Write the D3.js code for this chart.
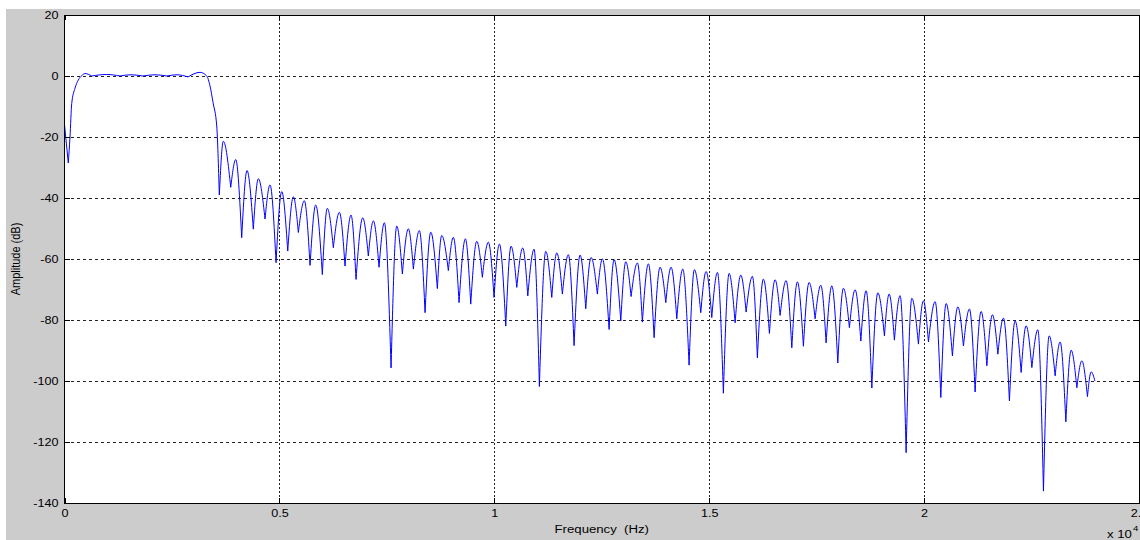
<!DOCTYPE html>
<html>
<head>
<meta charset="utf-8">
<script src="https://cdn.jsdelivr.net/npm/d3@7"></script>
<style>
  html, body { margin: 0; padding: 0; background: #fff; overflow: hidden; }
  svg { display: block; }
  text { font-family: "Liberation Sans", Arial, Helvetica, sans-serif; fill: #000; }
</style>
</head>
<body>
<svg id="chart" width="1140" height="540"></svg>
<script>
// Magnitude response of the low-pass FIR filter, sampled at the ripple peaks and notches.
const freqHz = [
  0, 88, 128, 168, 244, 321, 400, 477, 633, 982, 1291, 1547, 1827, 2106, 2385, 2618, 2874, 3153,
  3309, 3386, 3456, 3542, 3602,
  3695, 3868, 3984, 4123, 4247, 4393, 4510, 4666, 4782, 4922, 5054, 5194, 5324, 5441, 5580, 5713,
  5845, 5999, 6115, 6255, 6395, 6527, 6667, 6783, 6939, 7069, 7186, 7318, 7442, 7598, 7730, 7861,
  8000, 8117, 8256, 8389, 8522, 8675, 8777, 8931, 9047, 9180, 9327, 9452, 9592, 9722, 9862, 9994,
  10118, 10267, 10390, 10523, 10662, 10779, 10925, 11049, 11197, 11337, 11454, 11584, 11723, 11856,
  11996, 12128, 12252, 12398, 12515, 12671, 12787, 12943, 13059, 13183, 13329, 13445, 13585, 13718,
  13857, 13990, 14113, 14246, 14385, 14532, 14655, 14804, 14928, 15060, 15191, 15330, 15463, 15603,
  15735, 15859, 16005, 16121, 16261, 16401, 16533, 16650, 16789, 16922, 17052, 17192, 17324, 17464,
  17597, 17720, 17853, 17992, 18123, 18262, 18395, 18528, 18651, 18784, 18923, 19077, 19186, 19309,
  19442, 19582, 19714, 19868, 19984, 20101, 20257, 20389, 20512, 20659, 20785, 20915, 21055, 21187,
  21327, 21460, 21590, 21716, 21846, 21985, 22118, 22258, 22374, 22507, 22646, 22777, 22909, 23049,
  23165, 23298, 23421, 23554, 23670, 23801, 23887, 23975
];
const ampDb = [
  -16, -28.5, -20, -9, -4, -1.3, 0.1, 0.8, 0, 0.5, 0, 0.4, 0, 0.4, 0, 0.4, -0.3, 1.2,
  0, -3.3, -8.7, -16.4, -39,
  -21.4, -36.5, -27.4, -53, -31, -50.2, -33.7, -46.9, -35.7, -61.2, -37.9, -57.4, -39.6, -51.3, -40.9, -62.1,
  -42.3, -65.1, -43.4, -56.3, -44.7, -62.3, -45.6, -66.7, -46.5, -59, -47.5, -62.7, -48.1, -95.7, -49.2, -64.9,
  -50.1, -63.3, -50.7, -77.6, -51.2, -69.7, -52.3, -63.8, -52.9, -74.3, -53.4, -74.8, -54.2, -66, -54.5, -72.6,
  -55.1, -82, -55.8, -69.3, -56.4, -72.1, -56.8, -101.8, -57.5, -72.6, -58, -71.5, -58.6, -88.4,
  -58.7, -76.3, -59.5, -71.5, -60, -83.1, -60.2, -80.3, -60.9, -72.3, -61.3, -80.7, -61.6, -85.8,
  -62.7, -74.3, -62.7, -79.6, -63.3, -94.8, -63.5, -77.6, -64.1, -79.2, -64.4, -104, -64.7, -80.9,
  -65.3, -77.4, -65.7, -92.4, -66.6, -84.4, -66.8, -78.5, -67.1, -89.1, -67.5, -88.6, -67.7, -79.6,
  -68.6, -87.5, -68.8, -94.1, -69.6, -82.5, -70.1, -86.9, -70.4, -102.3, -71.1, -85.2, -71.5, -86.6,
  -72, -123.5, -72.9, -87.9, -73.7, -87.2, -74, -105.4, -74.6, -91.8, -75.7, -88.5, -76.4, -103.6,
  -77.2, -95, -78.3, -91.2, -79.4, -106.5, -80.3, -97.2, -81.9, -95.6, -83.2, -136.1, -85.2, -98.3,
  -87.2, -113.4, -89.9, -102.2, -93.4, -105.1, -97, -100
];

const xTicks = [0, 5000, 10000, 15000, 20000, 25000];
const xTickLabels = ["0", "0.5", "1", "1.5", "2", "2.5"];
const yTicks = [20, 0, -20, -40, -60, -80, -100, -120, -140];
const yTickLabels = ["20", "0", "-20", "-40", "-60", "-80", "-100", "-120", "-140"];

const W = 1140, H = 540;
const plot = { left: 64.5, right: 1139, top: 15, bottom: 503 };
const stretch = 1.2; // glyphs in this figure are drawn slightly wide

const svg = d3.select("#chart");

const x = d3.scaleLinear().domain([0, 25000]).range([plot.left, plot.right]);
const y = d3.scaleLinear().domain([-140, 20]).range([plot.bottom, plot.top]);

// figure background
svg.append("rect").attr("x", 0).attr("y", 0).attr("width", W).attr("height", H).attr("fill", "#ffffff");
svg.append("rect").attr("x", 6).attr("y", 9).attr("width", W - 6).attr("height", H - 9).attr("fill", "#cccccc");

// axes area
svg.append("rect")
  .attr("x", plot.left).attr("y", plot.top)
  .attr("width", plot.right - plot.left).attr("height", plot.bottom - plot.top)
  .attr("fill", "#ffffff");

// grid
const grid = svg.append("g").attr("shape-rendering", "crispEdges");
grid.selectAll("line.h")
  .data(yTicks.filter(v => v < 20 && v > -140))
  .join("line")
  .attr("class", "h")
  .attr("x1", plot.left).attr("x2", plot.right)
  .attr("y1", d => Math.round(y(d)) + 0.5).attr("y2", d => Math.round(y(d)) + 0.5)
  .attr("stroke", "#222").attr("stroke-width", 1).attr("stroke-dasharray", "3,3");
grid.selectAll("line.v")
  .data(xTicks.filter(v => v > 0 && v < 25000))
  .join("line")
  .attr("class", "v")
  .attr("x1", d => Math.round(x(d)) + 0.5).attr("x2", d => Math.round(x(d)) + 0.5)
  .attr("y1", plot.top).attr("y2", plot.bottom)
  .attr("stroke", "#222").attr("stroke-width", 1).attr("stroke-dasharray", "2,2");

// response curve: each lobe is drawn as its own arch so notches stay sharp
svg.append("clipPath").attr("id", "plot-clip")
  .append("rect")
  .attr("x", plot.left).attr("y", plot.top)
  .attr("width", plot.right - plot.left).attr("height", plot.bottom - plot.top);

const pts = freqHz.map((f, i) => [f, ampDb[i]]);
const segments = [];
let cur = [pts[0]];
for (let i = 1; i < pts.length; i++) {
  cur.push(pts[i]);
  const notch = i < pts.length - 1 && pts[i][1] < pts[i - 1][1] && pts[i][1] < pts[i + 1][1];
  if (notch) { segments.push(cur); cur = [pts[i]]; }
}
segments.push(cur);

const line = d3.line()
  .x(d => x(d[0]))
  .y(d => y(d[1]))
  .curve(d3.curveMonotoneX);

svg.append("path")
  .attr("clip-path", "url(#plot-clip)")
  .attr("d", segments.map(s => line(s)).join(""))
  .attr("fill", "none")
  .attr("stroke", "#0000ff")
  .attr("stroke-width", 1)
  .attr("stroke-linejoin", "round");

// axes with inward ticks on all four sides
const tickLen = 5;
const fmtX = d => xTickLabels[xTicks.indexOf(d)];
const fmtY = d => yTickLabels[yTicks.indexOf(d)];

const gx = svg.append("g")
  .attr("transform", `translate(0,${plot.bottom})`)
  .call(d3.axisBottom(x).tickValues(xTicks).tickFormat(fmtX).tickSizeInner(-tickLen).tickSizeOuter(0).tickPadding(7));
gx.select(".domain").remove();
gx.selectAll("text")
  .attr("font-size", "10.5px")
  .attr("transform", `scale(${stretch},1)`);

const gy = svg.append("g")
  .attr("transform", `translate(${plot.left},0)`)
  .call(d3.axisLeft(y).tickValues(yTicks).tickFormat(fmtY).tickSizeInner(-tickLen).tickSizeOuter(0).tickPadding(6));
gy.select(".domain").remove();
gy.selectAll("text")
  .attr("font-size", "10.5px")
  .attr("x", -6 / stretch)
  .attr("transform", `scale(${stretch},1)`);

const gt = svg.append("g")
  .attr("transform", `translate(0,${plot.top})`)
  .call(d3.axisTop(x).tickValues(xTicks).tickFormat("").tickSizeInner(-tickLen).tickSizeOuter(0));
gt.select(".domain").remove();

const gr = svg.append("g")
  .attr("transform", `translate(${plot.right},0)`)
  .call(d3.axisRight(y).tickValues(yTicks).tickFormat("").tickSizeInner(-tickLen).tickSizeOuter(0));
gr.select(".domain").remove();

svg.selectAll(".tick line").attr("stroke", "#000").attr("shape-rendering", "crispEdges");
[gx, gy, gt, gr].forEach(g => g.attr("font-family", null));

// axes box
svg.append("rect")
  .attr("x", plot.left).attr("y", plot.top)
  .attr("width", plot.right - plot.left).attr("height", plot.bottom - plot.top)
  .attr("fill", "none").attr("stroke", "#000").attr("stroke-width", 1)
  .attr("shape-rendering", "crispEdges");

// axis titles
svg.append("text")
  .attr("transform", `translate(${(plot.left + plot.right) / 2},533) scale(${stretch},1)`)
  .attr("text-anchor", "middle")
  .attr("font-size", "11px")
  .style("white-space", "pre")
  .text("Frequency  (Hz)");

svg.append("text")
  .attr("transform", `translate(20,${(plot.top + plot.bottom) / 2}) scale(${stretch},1) rotate(-90)`)
  .attr("text-anchor", "middle")
  .attr("font-size", "11px")
  .text("Amplitude (dB)");

// exponent of the frequency axis
svg.append("text")
  .attr("transform", `translate(1107,538) scale(${stretch},1)`)
  .attr("font-size", "11px")
  .style("white-space", "pre")
  .text("x 10");
svg.append("text")
  .attr("transform", `translate(1133,531) scale(${stretch},1)`)
  .attr("font-size", "8px")
  .text("4");
</script>
</body>
</html>
